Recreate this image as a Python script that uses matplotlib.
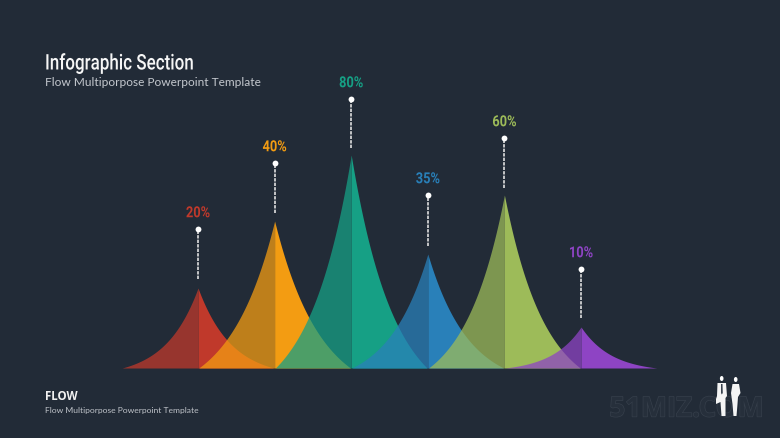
import numpy as np
import matplotlib
matplotlib.use("Agg")
import matplotlib.pyplot as plt
import matplotlib.patheffects as pe
from matplotlib.patches import Ellipse, Polygon
from matplotlib.transforms import Affine2D

W, H = 780, 439
BG = "#222B37"

# data
labels = ["20%", "40%", "80%", "35%", "60%", "10%"]
peak_heights = [80, 147, 213, 114, 173, 41]
pin_heights = [139, 205, 269, 173, 230, 99]
stem_bottoms = [89, 155, 220, 122, 180, 50]
colors = ["#C0392B", "#F39C12", "#16A085", "#2980B9", "#9DBB59", "#8E44C4"]
curvature = [2.3, 1.7, 1.8, 1.9, 1.9, 2.5]
positions = [0, 1, 2, 3, 4, 5]
half_width = 0.99
left_alpha = 0.75


class Squeeze(pe.AbstractPathEffect):
    """Draw glyph outlines narrower, about a fixed x position in pixels."""
    def __init__(self, anchor_x, factor):
        super().__init__()
        self.anchor_x, self.factor = anchor_x, factor

    def draw_path(self, renderer, gc, tpath, affine, rgbFace=None):
        squeeze = Affine2D().translate(-self.anchor_x, 0).scale(self.factor, 1).translate(self.anchor_x, 0)
        renderer.draw_path(gc, tpath, affine + squeeze, rgbFace)


fig = plt.figure(figsize=(W / 100, H / 100), dpi=100, facecolor=BG)

# chart axes: x in category slots, y in picture-height units above the baseline
ax = fig.add_axes([198 / W, (H - 369) / H, (581 - 198) / W, 269 / H])
ax.set_xlim(0, 5)
ax.set_ylim(0, 269)
ax.axis("off")

t = np.linspace(0, 1, 200)
for x0, h, col, k, lab, pin, sb in zip(positions, peak_heights, colors, curvature, labels, pin_heights, stem_bottoms):
    xs = t * half_width
    ys = h * (np.exp(-k * t) - np.exp(-k)) / (1 - np.exp(-k))
    ax.fill_between(x0 - xs, 0, ys, color=col, alpha=left_alpha, lw=0, clip_on=False, zorder=2)
    ax.fill_between(x0 + xs, 0, ys, color=col, lw=0, clip_on=False, zorder=2)
    ax.plot([x0, x0], [sb, pin], color="#E0E0E0", lw=1.2, dashes=(2.0, 0.7), clip_on=False, zorder=3)
    ax.plot([x0], [pin], "o", color="white", ms=4.2, mew=0, clip_on=False, zorder=4)
    ann = ax.annotate(lab, (x0, pin), xytext=(0, 6.3), textcoords="offset points", ha="center",
                      va="bottom", color=col, fontsize=11, fontweight="bold", family="Roboto",
                      annotation_clip=False)
    ann.set_path_effects([Squeeze(ax.transData.transform((x0, pin))[0], 0.84)])

# page furniture in pixel coordinates
pg = fig.add_axes([0, 0, 1, 1], zorder=-1)
pg.set_xlim(0, W)
pg.set_ylim(H, 0)
pg.axis("off")
title = pg.text(45, 65, "Infographic Section", color="#F6F6F6", fontsize=15.5, fontweight="medium",
                family="Roboto", va="center", ha="left")
title.set_path_effects([Squeeze(45, 0.79)])
pg.text(45, 82, "Flow Multiporpose Powerpoint Template", color="#C4C8CE", fontsize=8.55, family="Lato",
        va="center", ha="left")
pg.text(45, 396.5, "FLOW", color="#F0F0F0", fontsize=8.3, fontweight="bold", family="Open Sans",
        va="center", ha="left")
pg.text(45, 411, "Flow Multiporpose Powerpoint Template", color="#BFC3C9", fontsize=6.1, family="Lato",
        va="center", ha="left")
pg.text(686.5, 410, "51MIZ.COM", color="#262F3B", fontsize=19.9, fontweight="bold", family="Open Sans",
        va="center", ha="center",
        path_effects=[pe.withStroke(linewidth=1.0, foreground="#363F4B")])

# silhouettes of the two figures
for part, shade in [
    (Ellipse((721.7, 379.5), 3.6, 5), "white"),
    (Polygon([(717.5, 384), (726, 384), (727, 397), (725.5, 399), (725.5, 417), (721.5, 417),
              (720.5, 403), (716, 405), (716, 400), (717, 397)]), "#F4F4F4"),
    (Polygon([(721, 385), (722.5, 385), (722.8, 394), (721.8, 395.5), (721, 394)]), "#39424E"),
    (Ellipse((735.7, 380.5), 3.6, 5), "white"),
    (Polygon([(732.5, 385), (739, 385), (740.5, 394), (738, 398), (737.5, 405), (736.5, 417),
              (733.5, 417), (732.5, 405), (731, 394)]), "#F4F4F4"),
]:
    part.set(facecolor=shade, edgecolor="none", zorder=5)
    pg.add_patch(part)

fig.savefig("out.png", dpi=100, facecolor=BG)
